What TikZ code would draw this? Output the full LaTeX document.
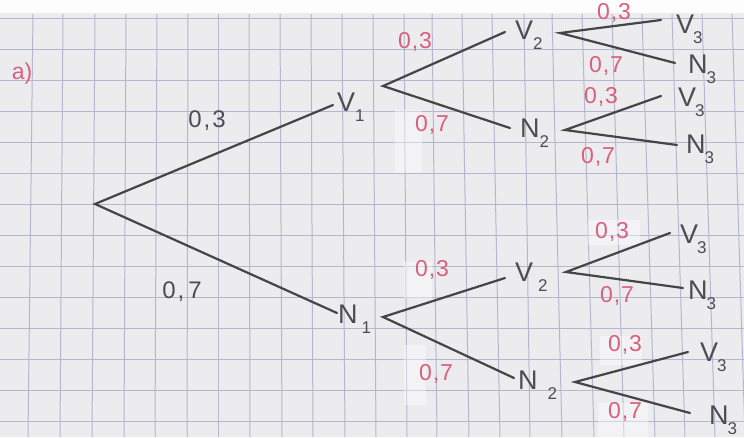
\documentclass[tikz,border=0pt]{standalone}
\usepackage{fontspec}
\setmainfont{Liberation Sans}
\definecolor{paperc}{HTML}{ECECEF}
\definecolor{gridc}{HTML}{B4B7CE}
\definecolor{inkc}{HTML}{454548}
\definecolor{redc}{HTML}{D9607C}
\definecolor{letc}{HTML}{4C4C52}
\newcommand{\sbx}[1]{\raisebox{-10pt}{\fontsize{17}{17}\selectfont #1}}
\begin{document}
\begin{tikzpicture}[x=1pt,y=-1pt,
  branch/.style={draw=inkc,line width=2.2pt,line cap=round},
  prob/.style={text=redc,font=\fontsize{23}{23}\selectfont,inner sep=0pt},
  probk/.style={text=letc,font=\fontsize{24}{24}\selectfont,inner sep=0pt},
  ev/.style={text=letc,font=\fontsize{27}{27}\selectfont,inner sep=0pt,anchor=base west},
  patch/.style={fill=white,opacity=0.4}]
\useasboundingbox (0,0) rectangle (744,437);
\fill[paperc] (0,0) rectangle (744,437);
% grid
\foreach \a/\b in {33/28,63/60,95/92,126/124,157/155,188/187,218/218,249/250,280/282,311/313,342/345,373/376,404/407,432/437,462/469,492/500,524/530,552/562,582/594,612/624,642/655,672/685,702/715,732/745}
  \draw[gridc,line width=1pt] (\a,14) -- (\b,437);
\foreach \y in {18,49,80,111,142,173,204,235,266,297,328,359,390,421}
  \draw[gridc,line width=1pt] (0,\y) -- (744,\y);
\fill[white!92!paperc] (0,0) rectangle (744,13);
% correction patches
\fill[patch] (395,110) rectangle (422,173);
\fill[patch] (404,262) rectangle (432,298);
\fill[patch] (404,345) rectangle (426,405);
\fill[patch] (600,336) rectangle (642,365);
\fill[patch] (598,403) rectangle (648,437);
\fill[patch] (588,220) rectangle (640,245);
% points
\coordinate (root) at (95,204);
\coordinate (V1in) at (333,105);
\coordinate (N1in) at (337,313);
\coordinate (V1out) at (383,86);
\coordinate (N1out) at (383,317);
\coordinate (V2ain) at (505,32);
\coordinate (N2ain) at (510,128);
\coordinate (V2aout) at (560,33);
\coordinate (N2aout) at (565,130);
\coordinate (V2bin) at (505,278);
\coordinate (N2bin) at (514,378);
\coordinate (V2bout) at (566,272);
\coordinate (N2bout) at (575,382);
\coordinate (V3ain) at (661,20);
\coordinate (N3ain) at (675,63);
\coordinate (V3bin) at (661,96);
\coordinate (N3bin) at (677,145);
\coordinate (V3cin) at (670,233);
\coordinate (N3cin) at (683,288);
\coordinate (V3din) at (688,352);
\coordinate (N3din) at (690,413);
% branches
\draw[branch] (V1in) -- (root) -- (N1in);
\draw[branch] (V2ain) -- (V1out) -- (N2ain);
\draw[branch] (V2bin) -- (N1out) -- (N2bin);
\draw[branch] (V3ain) -- (V2aout) -- (N3ain);
\draw[branch] (V3bin) -- (N2aout) -- (N3bin);
\draw[branch] (V3cin) -- (V2bout) -- (N3cin);
\draw[branch] (V3din) -- (N2bout) -- (N3din);
% events
\node[ev] (V1) at (337,111) {V\kern0pt\sbx{1}};
\node[ev] (N1) at (338,323) {N\kern4pt\sbx{1}};
\node[ev] (V2a) at (515,39) {V\kern0pt\sbx{2}};
\node[ev] (N2a) at (520,137) {N\kern0pt\sbx{2}};
\node[ev] (V2b) at (515,281) {V\kern5pt\sbx{2}};
\node[ev] (N2b) at (518,389) {N\kern10pt\sbx{2}};
\node[ev] (V3a) at (676,33) {V\kern-1pt\sbx{3}};
\node[ev] (N3a) at (688,73) {N\kern-1pt\sbx{3}};
\node[ev] (V3b) at (678,106) {V\kern-1pt\sbx{3}};
\node[ev] (N3b) at (686,153) {N\kern-1pt\sbx{3}};
\node[ev] (V3c) at (680,243) {V\kern-1pt\sbx{3}};
\node[ev] (N3c) at (688,299) {N\kern-1pt\sbx{3}};
\node[ev] (V3d) at (700,361) {V\kern-1pt\sbx{3}};
\node[ev] (N3d) at (709,424) {N\kern-1pt\sbx{3}};
% probabilities
\node[probk] (p1) at (207,121) {0\kern2pt,\kern2pt3};
\node[probk] (p2) at (182,292) {0\kern2pt,\kern4pt7};
\node[prob] (p3) at (415,42) {0\kern1pt,\kern1pt3};
\node[prob] (p4) at (432,125) {0\kern1pt,\kern1pt7};
\node[prob] (p5) at (614,13) {0\kern1pt,\kern1pt3};
\node[prob] (p6) at (606,66) {0\kern1pt,\kern1pt7};
\node[prob] (p7) at (601,97) {0\kern1pt,\kern1pt3};
\node[prob] (p8) at (598,157) {0\kern1pt,\kern1pt7};
\node[prob] (p9) at (432,270) {0\kern1pt,\kern1pt3};
\node[prob] (p10) at (436,374) {0\kern1pt,\kern1pt7};
\node[prob] (p11) at (612,232) {0\kern1pt,\kern1pt3};
\node[prob] (p12) at (617,296) {0\kern1pt,\kern1pt7};
\node[prob] (p13) at (625,345) {0\kern1pt,\kern1pt3};
\node[prob] (p14) at (625,412) {0\kern1pt,\kern1pt7};
\node[prob] (qa) at (22,74) {a)};
\end{tikzpicture}
\end{document}
